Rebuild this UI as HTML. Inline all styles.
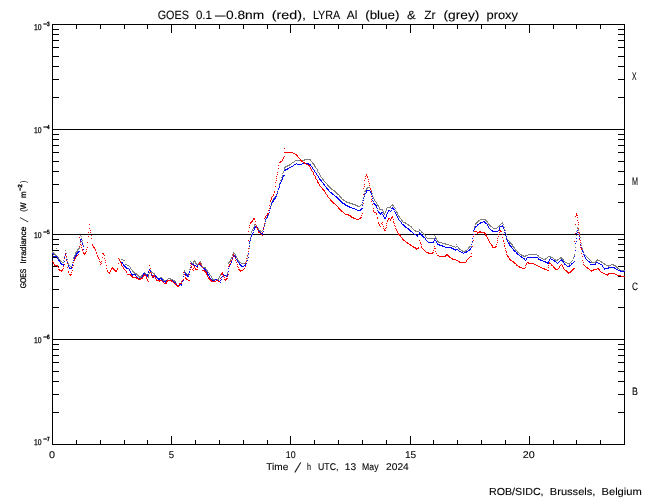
<!DOCTYPE html><html><head><meta charset="utf-8"><style>html,body{margin:0;padding:0;background:#fff;}svg{display:block;}text{font-family:"Liberation Sans",sans-serif;text-rendering:geometricPrecision;fill:#000;stroke:#000;stroke-width:0.1px;}</style></head><body>
<svg width="650" height="500" viewBox="0 0 650 500">
<rect width="650" height="500" fill="#fff"/>
<path d="M52 24.5H625M52 444.5H625M52.5 24V445M624.5 24V445M52 129.5H625M52 234.5H625M52 339.5H625M52 97.5H59M618 97.5H625M52 79.5H59M618 79.5H625M52 66.5H59M618 66.5H625M52 56.5H59M618 56.5H625M52 47.5H59M618 47.5H625M52 40.5H59M618 40.5H625M52 34.5H59M618 34.5H625M52 29.5H59M618 29.5H625M52 202.5H59M618 202.5H625M52 184.5H59M618 184.5H625M52 171.5H59M618 171.5H625M52 161.5H59M618 161.5H625M52 152.5H59M618 152.5H625M52 145.5H59M618 145.5H625M52 139.5H59M618 139.5H625M52 134.5H59M618 134.5H625M52 307.5H59M618 307.5H625M52 289.5H59M618 289.5H625M52 276.5H59M618 276.5H625M52 266.5H59M618 266.5H625M52 257.5H59M618 257.5H625M52 250.5H59M618 250.5H625M52 244.5H59M618 244.5H625M52 239.5H59M618 239.5H625M52 412.5H59M618 412.5H625M52 394.5H59M618 394.5H625M52 381.5H59M618 381.5H625M52 371.5H59M618 371.5H625M52 362.5H59M618 362.5H625M52 355.5H59M618 355.5H625M52 349.5H59M618 349.5H625M52 344.5H59M618 344.5H625M76.5 24V29M76.5 440V445M100.5 24V29M100.5 440V445M124.5 24V29M124.5 440V445M147.5 24V29M147.5 440V445M171.5 24V33M171.5 436V445M195.5 24V29M195.5 440V445M219.5 24V29M219.5 440V445M243.5 24V29M243.5 440V445M267.5 24V29M267.5 440V445M290.5 24V33M290.5 436V445M314.5 24V29M314.5 440V445M338.5 24V29M338.5 440V445M362.5 24V29M362.5 440V445M386.5 24V29M386.5 440V445M410.5 24V33M410.5 436V445M433.5 24V29M433.5 440V445M457.5 24V29M457.5 440V445M481.5 24V29M481.5 440V445M505.5 24V29M505.5 440V445M529.5 24V33M529.5 436V445M553.5 24V29M553.5 440V445M576.5 24V29M576.5 440V445M600.5 24V29M600.5 440V445" stroke="#000" stroke-width="1" fill="none" shape-rendering="crispEdges"/>
<path d="M304 159h7v1h-7zM295 160h10v1h-10zM310 160h1v1h-1zM294 161h1v1h-1zM311 161h1v1h-1zM292 162h2v1h-2zM312 162h1v1h-1zM291 163h1v1h-1zM312 163h2v1h-2zM289 164h2v1h-2zM313 164h2v1h-2zM287 165h3v1h-3zM314 165h1v1h-1zM285 166h3v1h-3zM314 166h2v1h-2zM284 167h2v1h-2zM315 167h1v1h-1zM284 168h1v1h-1zM316 168h1v1h-1zM284 169h1v1h-1zM317 169h1v1h-1zM317 170h1v1h-1zM283 171h1v1h-1zM317 171h1v1h-1zM283 172h1v1h-1zM318 172h1v1h-1zM282 173h1v1h-1zM319 173h1v1h-1zM319 174h1v1h-1zM282 175h1v1h-1zM320 175h1v1h-1zM282 176h1v1h-1zM320 176h1v1h-1zM281 177h1v1h-1zM321 177h1v1h-1zM322 178h1v1h-1zM281 179h1v1h-1zM322 179h2v1h-2zM280 180h1v1h-1zM323 180h1v1h-1zM324 181h1v1h-1zM280 182h1v1h-1zM325 182h1v1h-1zM279 183h1v1h-1zM326 183h1v1h-1zM327 184h1v1h-1zM279 185h1v1h-1zM327 185h2v1h-2zM279 186h1v1h-1zM328 186h2v1h-2zM329 187h2v1h-2zM367 187h3v1h-3zM278 188h1v1h-1zM330 188h2v1h-2zM366 188h2v1h-2zM370 188h1v1h-1zM278 189h1v1h-1zM331 189h2v1h-2zM366 189h1v1h-1zM370 189h1v1h-1zM333 190h2v1h-2zM365 190h1v1h-1zM371 190h1v1h-1zM277 191h1v1h-1zM334 191h2v1h-2zM364 191h2v1h-2zM277 192h1v1h-1zM335 192h2v1h-2zM371 192h1v1h-1zM277 193h1v1h-1zM336 193h2v1h-2zM364 193h1v1h-1zM372 193h1v1h-1zM276 194h1v1h-1zM337 194h2v1h-2zM276 195h1v1h-1zM339 195h1v1h-1zM364 195h1v1h-1zM372 195h1v1h-1zM275 196h1v1h-1zM339 196h2v1h-2zM372 196h1v1h-1zM274 197h2v1h-2zM340 197h2v1h-2zM363 197h1v1h-1zM373 197h1v1h-1zM273 198h1v1h-1zM341 198h1v1h-1zM363 198h1v1h-1zM373 198h1v1h-1zM273 199h1v1h-1zM342 199h2v1h-2zM374 199h1v1h-1zM272 200h1v1h-1zM343 200h2v1h-2zM362 200h1v1h-1zM374 200h1v1h-1zM272 201h1v1h-1zM345 201h2v1h-2zM375 201h1v1h-1zM271 202h1v1h-1zM346 202h4v1h-4zM362 202h1v1h-1zM376 202h1v1h-1zM271 203h1v1h-1zM349 203h4v1h-4zM376 203h1v1h-1zM352 204h4v1h-4zM361 204h2v1h-2zM377 204h1v1h-1zM392 204h1v1h-1zM271 205h1v1h-1zM355 205h3v1h-3zM360 205h1v1h-1zM377 205h2v1h-2zM391 205h3v1h-3zM357 206h3v1h-3zM378 206h1v1h-1zM390 206h1v1h-1zM393 206h1v1h-1zM270 207h1v1h-1zM379 207h1v1h-1zM387 207h4v1h-4zM394 207h1v1h-1zM270 208h1v1h-1zM379 208h1v1h-1zM386 208h1v1h-1zM395 208h1v1h-1zM379 209h4v1h-4zM386 209h1v1h-1zM269 210h1v1h-1zM382 210h1v1h-1zM386 210h1v1h-1zM395 210h1v1h-1zM383 211h1v1h-1zM385 211h1v1h-1zM396 211h1v1h-1zM269 212h1v1h-1zM383 212h1v1h-1zM385 212h1v1h-1zM396 212h2v1h-2zM383 213h2v1h-2zM397 213h1v1h-1zM268 214h1v1h-1zM384 214h1v1h-1zM397 214h1v1h-1zM267 215h2v1h-2zM398 215h1v1h-1zM267 216h1v1h-1zM398 216h2v1h-2zM266 217h1v1h-1zM399 217h1v1h-1zM266 218h1v1h-1zM400 218h1v1h-1zM401 219h1v1h-1zM480 219h6v1h-6zM265 220h1v1h-1zM401 220h2v1h-2zM478 220h2v1h-2zM485 220h2v1h-2zM265 221h1v1h-1zM402 221h1v1h-1zM477 221h2v1h-2zM486 221h2v1h-2zM403 222h3v1h-3zM476 222h2v1h-2zM487 222h1v1h-1zM502 222h1v1h-1zM265 223h1v1h-1zM405 223h2v1h-2zM475 223h2v1h-2zM488 223h1v1h-1zM501 223h2v1h-2zM254 224h2v1h-2zM264 224h1v1h-1zM407 224h2v1h-2zM475 224h1v1h-1zM488 224h2v1h-2zM500 224h1v1h-1zM503 224h1v1h-1zM254 225h1v1h-1zM256 225h1v1h-1zM408 225h2v1h-2zM489 225h2v1h-2zM499 225h1v1h-1zM254 226h1v1h-1zM256 226h1v1h-1zM264 226h1v1h-1zM410 226h2v1h-2zM474 226h1v1h-1zM490 226h2v1h-2zM498 226h2v1h-2zM503 226h1v1h-1zM253 227h1v1h-1zM257 227h1v1h-1zM263 227h1v1h-1zM411 227h1v1h-1zM474 227h1v1h-1zM492 227h1v1h-1zM497 227h1v1h-1zM504 227h1v1h-1zM577 227h1v1h-1zM253 228h1v1h-1zM258 228h1v1h-1zM412 228h1v1h-1zM493 228h4v1h-4zM577 228h1v1h-1zM252 229h1v1h-1zM258 229h1v1h-1zM263 229h1v1h-1zM413 229h1v1h-1zM419 229h1v1h-1zM474 229h1v1h-1zM504 229h1v1h-1zM578 229h1v1h-1zM252 230h1v1h-1zM259 230h2v1h-2zM262 230h1v1h-1zM414 230h2v1h-2zM419 230h2v1h-2zM505 230h1v1h-1zM578 230h1v1h-1zM251 231h1v1h-1zM260 231h2v1h-2zM415 231h4v1h-4zM421 231h1v1h-1zM473 231h1v1h-1zM576 231h1v1h-1zM251 232h1v1h-1zM262 232h1v1h-1zM421 232h2v1h-2zM505 232h1v1h-1zM579 232h1v1h-1zM423 233h1v1h-1zM251 234h1v1h-1zM423 234h2v1h-2zM473 234h1v1h-1zM506 234h1v1h-1zM579 234h1v1h-1zM80 235h1v1h-1zM425 235h1v1h-1zM434 235h1v1h-1zM576 235h1v1h-1zM81 236h1v1h-1zM425 236h1v1h-1zM435 236h1v1h-1zM506 236h1v1h-1zM250 237h1v1h-1zM426 237h1v1h-1zM435 237h1v1h-1zM506 237h1v1h-1zM580 237h1v1h-1zM81 238h1v1h-1zM427 238h8v1h-8zM436 238h1v1h-1zM472 238h1v1h-1zM250 239h1v1h-1zM436 239h1v1h-1zM507 239h1v1h-1zM82 240h1v1h-1zM437 240h1v1h-1zM508 240h1v1h-1zM580 240h1v1h-1zM437 241h2v1h-2zM509 241h1v1h-1zM576 241h1v1h-1zM80 242h1v1h-1zM82 242h1v1h-1zM249 242h1v1h-1zM438 242h4v1h-4zM472 242h1v1h-1zM509 242h2v1h-2zM442 243h4v1h-4zM510 243h2v1h-2zM581 243h1v1h-1zM445 244h4v1h-4zM456 244h1v1h-1zM471 244h1v1h-1zM511 244h2v1h-2zM83 245h1v1h-1zM249 245h1v1h-1zM449 245h3v1h-3zM512 245h1v1h-1zM581 245h1v1h-1zM452 246h3v1h-3zM456 246h2v1h-2zM469 246h3v1h-3zM512 246h2v1h-2zM79 247h1v1h-1zM455 247h1v1h-1zM458 247h1v1h-1zM468 247h2v1h-2zM513 247h2v1h-2zM575 247h1v1h-1zM56 248h1v1h-1zM78 248h2v1h-2zM249 248h1v1h-1zM458 248h2v1h-2zM468 248h1v1h-1zM514 248h1v1h-1zM582 248h1v1h-1zM77 249h2v1h-2zM459 249h2v1h-2zM467 249h1v1h-1zM515 249h1v1h-1zM582 249h1v1h-1zM65 250h1v1h-1zM77 250h1v1h-1zM461 250h2v1h-2zM465 250h2v1h-2zM515 250h2v1h-2zM575 250h1v1h-1zM52 251h1v1h-1zM76 251h2v1h-2zM248 251h1v1h-1zM462 251h4v1h-4zM517 251h1v1h-1zM583 251h1v1h-1zM52 252h2v1h-2zM75 252h2v1h-2zM233 252h1v1h-1zM517 252h2v1h-2zM583 252h1v1h-1zM53 253h2v1h-2zM65 253h2v1h-2zM75 253h1v1h-1zM233 253h2v1h-2zM519 253h1v1h-1zM54 254h2v1h-2zM75 254h1v1h-1zM232 254h1v1h-1zM235 254h1v1h-1zM248 254h1v1h-1zM520 254h2v1h-2zM528 254h9v1h-9zM574 254h1v1h-1zM584 254h1v1h-1zM55 255h2v1h-2zM74 255h1v1h-1zM232 255h1v1h-1zM235 255h1v1h-1zM521 255h3v1h-3zM525 255h3v1h-3zM537 255h2v1h-2zM574 255h1v1h-1zM584 255h2v1h-2zM57 256h1v1h-1zM64 256h1v1h-1zM74 256h1v1h-1zM236 256h1v1h-1zM247 256h1v1h-1zM523 256h3v1h-3zM538 256h1v1h-1zM548 256h3v1h-3zM586 256h1v1h-1zM57 257h2v1h-2zM66 257h1v1h-1zM73 257h1v1h-1zM231 257h2v1h-2zM236 257h1v1h-1zM539 257h2v1h-2zM547 257h1v1h-1zM550 257h3v1h-3zM560 257h2v1h-2zM573 257h1v1h-1zM587 257h1v1h-1zM58 258h1v1h-1zM64 258h1v1h-1zM73 258h1v1h-1zM231 258h1v1h-1zM237 258h1v1h-1zM247 258h1v1h-1zM541 258h2v1h-2zM545 258h2v1h-2zM553 258h1v1h-1zM559 258h4v1h-4zM573 258h1v1h-1zM588 258h1v1h-1zM59 259h1v1h-1zM67 259h1v1h-1zM121 259h2v1h-2zM230 259h1v1h-1zM237 259h1v1h-1zM543 259h3v1h-3zM554 259h2v1h-2zM557 259h2v1h-2zM562 259h2v1h-2zM589 259h1v1h-1zM597 259h1v1h-1zM59 260h2v1h-2zM63 260h1v1h-1zM73 260h1v1h-1zM123 260h2v1h-2zM194 260h1v1h-1zM230 260h1v1h-1zM238 260h1v1h-1zM246 260h1v1h-1zM555 260h3v1h-3zM563 260h1v1h-1zM572 260h1v1h-1zM590 260h1v1h-1zM596 260h4v1h-4zM60 261h2v1h-2zM67 261h1v1h-1zM190 261h1v1h-1zM193 261h3v1h-3zM200 261h1v1h-1zM229 261h2v1h-2zM238 261h2v1h-2zM246 261h1v1h-1zM564 261h1v1h-1zM571 261h1v1h-1zM591 261h1v1h-1zM595 261h2v1h-2zM600 261h2v1h-2zM62 262h2v1h-2zM72 262h1v1h-1zM191 262h1v1h-1zM193 262h1v1h-1zM195 262h1v1h-1zM199 262h2v1h-2zM228 262h2v1h-2zM239 262h2v1h-2zM245 262h1v1h-1zM565 262h2v1h-2zM570 262h1v1h-1zM591 262h5v1h-5zM601 262h2v1h-2zM68 263h1v1h-1zM191 263h3v1h-3zM195 263h2v1h-2zM198 263h2v1h-2zM201 263h1v1h-1zM228 263h1v1h-1zM241 263h5v1h-5zM567 263h3v1h-3zM603 263h2v1h-2zM68 264h1v1h-1zM72 264h1v1h-1zM125 264h2v1h-2zM196 264h2v1h-2zM201 264h1v1h-1zM569 264h1v1h-1zM604 264h2v1h-2zM611 264h3v1h-3zM69 265h1v1h-1zM127 265h2v1h-2zM190 265h1v1h-1zM201 265h1v1h-1zM606 265h5v1h-5zM613 265h3v1h-3zM70 266h2v1h-2zM129 266h1v1h-1zM202 266h1v1h-1zM608 266h1v1h-1zM615 266h2v1h-2zM71 267h1v1h-1zM130 267h1v1h-1zM203 267h3v1h-3zM616 267h2v1h-2zM130 268h1v1h-1zM205 268h1v1h-1zM617 268h2v1h-2zM131 269h1v1h-1zM189 269h1v1h-1zM205 269h2v1h-2zM619 269h1v1h-1zM132 270h1v1h-1zM184 270h1v1h-1zM206 270h2v1h-2zM620 270h5v1h-5zM132 271h2v1h-2zM150 271h2v1h-2zM184 271h1v1h-1zM189 271h1v1h-1zM207 271h1v1h-1zM133 272h2v1h-2zM144 272h1v1h-1zM149 272h1v1h-1zM151 272h2v1h-2zM185 272h1v1h-1zM208 272h1v1h-1zM227 272h1v1h-1zM134 273h3v1h-3zM143 273h3v1h-3zM149 273h1v1h-1zM153 273h2v1h-2zM185 273h2v1h-2zM188 273h1v1h-1zM209 273h1v1h-1zM221 273h2v1h-2zM227 273h1v1h-1zM136 274h2v1h-2zM142 274h1v1h-1zM146 274h1v1h-1zM148 274h1v1h-1zM154 274h1v1h-1zM183 274h1v1h-1zM186 274h2v1h-2zM209 274h1v1h-1zM220 274h1v1h-1zM222 274h2v1h-2zM137 275h2v1h-2zM141 275h2v1h-2zM146 275h1v1h-1zM155 275h1v1h-1zM187 275h2v1h-2zM210 275h1v1h-1zM220 275h1v1h-1zM224 275h3v1h-3zM138 276h4v1h-4zM147 276h2v1h-2zM156 276h1v1h-1zM211 276h1v1h-1zM219 276h1v1h-1zM139 277h2v1h-2zM148 277h1v1h-1zM157 277h1v1h-1zM160 277h2v1h-2zM211 277h1v1h-1zM219 277h1v1h-1zM157 278h4v1h-4zM162 278h1v1h-1zM168 278h3v1h-3zM212 278h1v1h-1zM218 278h1v1h-1zM159 279h1v1h-1zM163 279h1v1h-1zM167 279h1v1h-1zM170 279h3v1h-3zM183 279h1v1h-1zM212 279h7v1h-7zM163 280h4v1h-4zM172 280h3v1h-3zM182 280h1v1h-1zM165 281h1v1h-1zM174 281h2v1h-2zM175 282h1v1h-1zM181 282h1v1h-1zM176 283h1v1h-1zM180 283h1v1h-1zM176 284h1v1h-1zM179 284h1v1h-1zM181 284h1v1h-1zM177 285h3v1h-3z" fill="#808080" shape-rendering="crispEdges"/>
<path d="M296 163h1v1h-1zM302 163h7v1h-7zM294 164h2v1h-2zM297 164h5v1h-5zM308 164h3v1h-3zM293 165h1v1h-1zM310 165h1v1h-1zM291 166h2v1h-2zM311 166h1v1h-1zM289 167h2v1h-2zM312 167h1v1h-1zM287 168h2v1h-2zM312 168h1v1h-1zM285 169h3v1h-3zM313 169h1v1h-1zM284 170h2v1h-2zM314 170h1v1h-1zM314 171h1v1h-1zM315 172h1v1h-1zM316 173h1v1h-1zM316 174h1v1h-1zM283 175h2v1h-2zM317 175h1v1h-1zM283 176h1v1h-1zM318 176h1v1h-1zM282 177h1v1h-1zM318 177h1v1h-1zM282 178h1v1h-1zM319 178h1v1h-1zM282 179h1v1h-1zM319 179h2v1h-2zM281 180h1v1h-1zM320 180h2v1h-2zM281 181h1v1h-1zM321 181h1v1h-1zM280 182h1v1h-1zM322 182h1v1h-1zM280 183h1v1h-1zM323 183h1v1h-1zM279 184h1v1h-1zM323 184h2v1h-2zM324 185h1v1h-1zM279 186h1v1h-1zM325 186h1v1h-1zM279 187h1v1h-1zM326 187h1v1h-1zM278 188h1v1h-1zM326 188h2v1h-2zM278 189h1v1h-1zM327 189h2v1h-2zM328 190h1v1h-1zM366 190h4v1h-4zM277 191h1v1h-1zM329 191h1v1h-1zM366 191h1v1h-1zM370 191h1v1h-1zM330 192h2v1h-2zM366 192h1v1h-1zM370 192h1v1h-1zM277 193h1v1h-1zM331 193h2v1h-2zM365 193h1v1h-1zM371 193h1v1h-1zM276 194h1v1h-1zM332 194h2v1h-2zM364 194h1v1h-1zM371 194h1v1h-1zM334 195h1v1h-1zM275 196h2v1h-2zM335 196h2v1h-2zM364 196h1v1h-1zM372 196h1v1h-1zM275 197h1v1h-1zM336 197h2v1h-2zM274 198h2v1h-2zM337 198h2v1h-2zM363 198h1v1h-1zM372 198h1v1h-1zM273 199h2v1h-2zM338 199h2v1h-2zM273 200h1v1h-1zM339 200h2v1h-2zM363 200h1v1h-1zM372 200h1v1h-1zM272 201h2v1h-2zM340 201h2v1h-2zM373 201h1v1h-1zM272 202h1v1h-1zM341 202h2v1h-2zM362 202h1v1h-1zM271 203h1v1h-1zM342 203h3v1h-3zM373 203h2v1h-2zM271 204h1v1h-1zM344 204h2v1h-2zM374 204h2v1h-2zM345 205h3v1h-3zM362 205h1v1h-1zM375 205h2v1h-2zM270 206h1v1h-1zM347 206h3v1h-3zM376 206h1v1h-1zM349 207h3v1h-3zM376 207h1v1h-1zM392 207h1v1h-1zM270 208h1v1h-1zM352 208h3v1h-3zM361 208h2v1h-2zM377 208h1v1h-1zM391 208h3v1h-3zM355 209h2v1h-2zM360 209h2v1h-2zM393 209h2v1h-2zM269 210h1v1h-1zM357 210h4v1h-4zM377 210h1v1h-1zM388 210h2v1h-2zM391 210h1v1h-1zM378 211h1v1h-1zM388 211h1v1h-1zM390 211h1v1h-1zM394 211h1v1h-1zM269 212h1v1h-1zM378 212h2v1h-2zM381 212h2v1h-2zM387 212h1v1h-1zM395 212h1v1h-1zM268 213h1v1h-1zM379 213h3v1h-3zM387 213h1v1h-1zM395 213h1v1h-1zM268 214h1v1h-1zM380 214h1v1h-1zM382 214h1v1h-1zM386 214h1v1h-1zM396 214h1v1h-1zM267 215h1v1h-1zM383 215h1v1h-1zM386 215h1v1h-1zM396 215h1v1h-1zM267 216h1v1h-1zM383 216h1v1h-1zM386 216h1v1h-1zM397 216h1v1h-1zM267 217h1v1h-1zM384 217h2v1h-2zM397 217h1v1h-1zM266 218h1v1h-1zM384 218h2v1h-2zM398 218h1v1h-1zM265 219h1v1h-1zM398 219h1v1h-1zM399 220h1v1h-1zM265 221h1v1h-1zM400 221h1v1h-1zM483 221h2v1h-2zM401 222h1v1h-1zM480 222h3v1h-3zM484 222h2v1h-2zM264 223h1v1h-1zM401 223h1v1h-1zM479 223h2v1h-2zM485 223h2v1h-2zM402 224h2v1h-2zM477 224h2v1h-2zM487 224h1v1h-1zM264 225h1v1h-1zM403 225h2v1h-2zM477 225h1v1h-1zM487 225h1v1h-1zM502 225h1v1h-1zM255 226h1v1h-1zM404 226h2v1h-2zM475 226h2v1h-2zM488 226h1v1h-1zM500 226h3v1h-3zM254 227h4v1h-4zM405 227h2v1h-2zM475 227h1v1h-1zM488 227h1v1h-1zM499 227h1v1h-1zM503 227h1v1h-1zM254 228h1v1h-1zM257 228h1v1h-1zM263 228h1v1h-1zM407 228h2v1h-2zM474 228h1v1h-1zM489 228h1v1h-1zM499 228h1v1h-1zM503 228h1v1h-1zM254 229h1v1h-1zM257 229h1v1h-1zM408 229h2v1h-2zM474 229h1v1h-1zM490 229h1v1h-1zM499 229h1v1h-1zM253 230h1v1h-1zM258 230h1v1h-1zM409 230h2v1h-2zM473 230h1v1h-1zM491 230h2v1h-2zM498 230h1v1h-1zM504 230h1v1h-1zM577 230h1v1h-1zM258 231h2v1h-2zM263 231h1v1h-1zM410 231h2v1h-2zM492 231h6v1h-6zM253 232h1v1h-1zM259 232h2v1h-2zM412 232h1v1h-1zM419 232h1v1h-1zM504 232h1v1h-1zM577 232h2v1h-2zM252 233h1v1h-1zM260 233h3v1h-3zM413 233h1v1h-1zM419 233h2v1h-2zM505 233h1v1h-1zM576 233h1v1h-1zM252 234h1v1h-1zM262 234h1v1h-1zM414 234h2v1h-2zM418 234h1v1h-1zM420 234h2v1h-2zM473 234h1v1h-1zM578 234h1v1h-1zM251 235h1v1h-1zM416 235h2v1h-2zM421 235h2v1h-2zM505 235h1v1h-1zM251 236h1v1h-1zM417 236h1v1h-1zM422 236h2v1h-2zM506 236h1v1h-1zM579 236h1v1h-1zM423 237h2v1h-2zM250 238h1v1h-1zM425 238h1v1h-1zM435 238h1v1h-1zM472 238h1v1h-1zM506 238h1v1h-1zM576 238h1v1h-1zM579 238h1v1h-1zM80 239h2v1h-2zM425 239h1v1h-1zM434 239h1v1h-1zM506 239h1v1h-1zM80 240h1v1h-1zM250 240h1v1h-1zM426 240h1v1h-1zM434 240h2v1h-2zM507 240h1v1h-1zM580 240h1v1h-1zM81 241h1v1h-1zM249 241h1v1h-1zM427 241h1v1h-1zM433 241h1v1h-1zM436 241h1v1h-1zM472 241h1v1h-1zM507 241h1v1h-1zM576 241h1v1h-1zM428 242h6v1h-6zM436 242h1v1h-1zM508 242h1v1h-1zM82 243h1v1h-1zM249 243h1v1h-1zM437 243h1v1h-1zM508 243h2v1h-2zM575 243h1v1h-1zM82 244h1v1h-1zM437 244h3v1h-3zM471 244h1v1h-1zM509 244h1v1h-1zM580 244h1v1h-1zM439 245h4v1h-4zM509 245h2v1h-2zM79 246h1v1h-1zM83 246h1v1h-1zM249 246h1v1h-1zM442 246h3v1h-3zM510 246h2v1h-2zM445 247h7v1h-7zM471 247h1v1h-1zM511 247h1v1h-1zM581 247h1v1h-1zM451 248h3v1h-3zM470 248h1v1h-1zM512 248h1v1h-1zM83 249h1v1h-1zM453 249h5v1h-5zM469 249h2v1h-2zM513 249h1v1h-1zM581 249h1v1h-1zM455 250h1v1h-1zM458 250h1v1h-1zM468 250h2v1h-2zM513 250h2v1h-2zM575 250h1v1h-1zM582 250h1v1h-1zM78 251h2v1h-2zM459 251h2v1h-2zM466 251h2v1h-2zM514 251h2v1h-2zM582 251h1v1h-1zM77 252h2v1h-2zM461 252h2v1h-2zM464 252h3v1h-3zM516 252h1v1h-1zM583 252h1v1h-1zM52 253h1v1h-1zM76 253h2v1h-2zM248 253h1v1h-1zM463 253h1v1h-1zM516 253h2v1h-2zM53 254h1v1h-1zM65 254h1v1h-1zM76 254h1v1h-1zM517 254h2v1h-2zM583 254h1v1h-1zM65 255h1v1h-1zM75 255h2v1h-2zM233 255h2v1h-2zM519 255h1v1h-1zM584 255h1v1h-1zM53 256h4v1h-4zM66 256h1v1h-1zM75 256h1v1h-1zM233 256h3v1h-3zM520 256h2v1h-2zM574 256h1v1h-1zM584 256h1v1h-1zM57 257h1v1h-1zM64 257h1v1h-1zM74 257h1v1h-1zM235 257h1v1h-1zM248 257h1v1h-1zM521 257h2v1h-2zM527 257h11v1h-11zM585 257h1v1h-1zM57 258h1v1h-1zM74 258h1v1h-1zM232 258h1v1h-1zM235 258h1v1h-1zM523 258h2v1h-2zM526 258h1v1h-1zM538 258h1v1h-1zM550 258h1v1h-1zM585 258h1v1h-1zM58 259h1v1h-1zM66 259h1v1h-1zM74 259h1v1h-1zM232 259h1v1h-1zM236 259h1v1h-1zM524 259h1v1h-1zM526 259h1v1h-1zM538 259h3v1h-3zM549 259h1v1h-1zM551 259h2v1h-2zM561 259h1v1h-1zM586 259h1v1h-1zM58 260h2v1h-2zM73 260h1v1h-1zM237 260h1v1h-1zM247 260h1v1h-1zM525 260h1v1h-1zM540 260h3v1h-3zM549 260h1v1h-1zM553 260h2v1h-2zM560 260h3v1h-3zM587 260h1v1h-1zM59 261h1v1h-1zM64 261h1v1h-1zM231 261h1v1h-1zM237 261h1v1h-1zM246 261h1v1h-1zM543 261h3v1h-3zM548 261h1v1h-1zM554 261h2v1h-2zM559 261h1v1h-1zM562 261h2v1h-2zM574 261h1v1h-1zM588 261h2v1h-2zM60 262h1v1h-1zM67 262h1v1h-1zM73 262h1v1h-1zM121 262h2v1h-2zM231 262h1v1h-1zM238 262h1v1h-1zM545 262h4v1h-4zM556 262h1v1h-1zM558 262h1v1h-1zM563 262h1v1h-1zM573 262h1v1h-1zM589 262h2v1h-2zM596 262h2v1h-2zM60 263h2v1h-2zM67 263h1v1h-1zM122 263h1v1h-1zM190 263h2v1h-2zM199 263h1v1h-1zM230 263h1v1h-1zM239 263h1v1h-1zM245 263h2v1h-2zM547 263h2v1h-2zM557 263h1v1h-1zM564 263h1v1h-1zM571 263h2v1h-2zM595 263h1v1h-1zM598 263h2v1h-2zM61 264h3v1h-3zM72 264h1v1h-1zM123 264h1v1h-1zM191 264h3v1h-3zM198 264h3v1h-3zM230 264h1v1h-1zM239 264h2v1h-2zM245 264h1v1h-1zM564 264h2v1h-2zM571 264h1v1h-1zM590 264h6v1h-6zM600 264h2v1h-2zM63 265h1v1h-1zM68 265h1v1h-1zM72 265h1v1h-1zM123 265h2v1h-2zM194 265h2v1h-2zM197 265h1v1h-1zM200 265h2v1h-2zM229 265h1v1h-1zM240 265h2v1h-2zM244 265h2v1h-2zM566 265h1v1h-1zM569 265h2v1h-2zM602 265h1v1h-1zM68 266h1v1h-1zM124 266h2v1h-2zM196 266h2v1h-2zM201 266h1v1h-1zM229 266h1v1h-1zM241 266h3v1h-3zM567 266h3v1h-3zM602 266h1v1h-1zM69 267h1v1h-1zM71 267h1v1h-1zM125 267h2v1h-2zM190 267h1v1h-1zM202 267h1v1h-1zM603 267h1v1h-1zM608 267h7v1h-7zM69 268h3v1h-3zM126 268h3v1h-3zM203 268h2v1h-2zM228 268h1v1h-1zM604 268h5v1h-5zM614 268h2v1h-2zM129 269h1v1h-1zM149 269h1v1h-1zM204 269h2v1h-2zM604 269h1v1h-1zM616 269h2v1h-2zM129 270h1v1h-1zM149 270h2v1h-2zM205 270h1v1h-1zM618 270h3v1h-3zM130 271h1v1h-1zM148 271h1v1h-1zM150 271h1v1h-1zM189 271h1v1h-1zM205 271h2v1h-2zM228 271h1v1h-1zM620 271h5v1h-5zM130 272h1v1h-1zM148 272h1v1h-1zM184 272h1v1h-1zM189 272h1v1h-1zM206 272h2v1h-2zM131 273h1v1h-1zM143 273h2v1h-2zM151 273h1v1h-1zM185 273h1v1h-1zM207 273h1v1h-1zM131 274h5v1h-5zM143 274h3v1h-3zM147 274h1v1h-1zM151 274h1v1h-1zM185 274h2v1h-2zM188 274h1v1h-1zM207 274h2v1h-2zM222 274h2v1h-2zM227 274h1v1h-1zM132 275h1v1h-1zM135 275h1v1h-1zM142 275h1v1h-1zM145 275h3v1h-3zM152 275h1v1h-1zM154 275h2v1h-2zM186 275h2v1h-2zM208 275h1v1h-1zM223 275h3v1h-3zM227 275h1v1h-1zM136 276h1v1h-1zM142 276h1v1h-1zM146 276h2v1h-2zM152 276h2v1h-2zM155 276h2v1h-2zM183 276h1v1h-1zM187 276h2v1h-2zM209 276h1v1h-1zM222 276h1v1h-1zM226 276h1v1h-1zM137 277h1v1h-1zM141 277h1v1h-1zM153 277h1v1h-1zM156 277h1v1h-1zM209 277h1v1h-1zM221 277h1v1h-1zM138 278h4v1h-4zM157 278h5v1h-5zM210 278h1v1h-1zM158 279h2v1h-2zM161 279h2v1h-2zM210 279h2v1h-2zM215 279h2v1h-2zM221 279h1v1h-1zM162 280h1v1h-1zM166 280h7v1h-7zM183 280h1v1h-1zM212 280h3v1h-3zM216 280h3v1h-3zM220 280h1v1h-1zM163 281h4v1h-4zM172 281h2v1h-2zM182 281h1v1h-1zM212 281h1v1h-1zM218 281h2v1h-2zM165 282h1v1h-1zM174 282h2v1h-2zM220 282h1v1h-1zM175 283h1v1h-1zM181 283h1v1h-1zM176 284h1v1h-1zM179 284h3v1h-3zM176 285h4v1h-4zM181 285h1v1h-1zM178 286h1v1h-1z" fill="#0000ff" shape-rendering="crispEdges"/>
<path d="M284 148h1v1h-1zM284 152h9v1h-9zM293 153h2v1h-2zM295 154h2v1h-2zM296 155h2v1h-2zM284 156h1v1h-1zM297 156h1v1h-1zM283 157h1v1h-1zM298 157h1v1h-1zM283 158h1v1h-1zM299 158h1v1h-1zM282 159h1v1h-1zM300 159h1v1h-1zM282 160h1v1h-1zM300 160h2v1h-2zM280 161h2v1h-2zM301 161h2v1h-2zM279 162h2v1h-2zM303 162h2v1h-2zM304 163h2v1h-2zM306 164h2v1h-2zM278 165h1v1h-1zM308 165h2v1h-2zM309 166h1v1h-1zM310 167h1v1h-1zM278 168h1v1h-1zM310 168h1v1h-1zM311 169h1v1h-1zM311 170h1v1h-1zM312 171h1v1h-1zM277 172h1v1h-1zM313 172h1v1h-1zM313 173h1v1h-1zM277 174h1v1h-1zM313 174h1v1h-1zM366 174h1v1h-1zM314 175h1v1h-1zM366 175h1v1h-1zM276 176h1v1h-1zM315 176h1v1h-1zM365 176h1v1h-1zM367 176h1v1h-1zM315 177h1v1h-1zM367 177h1v1h-1zM276 178h1v1h-1zM315 178h1v1h-1zM365 178h1v1h-1zM316 179h1v1h-1zM368 179h1v1h-1zM276 180h1v1h-1zM317 180h1v1h-1zM364 180h1v1h-1zM317 181h1v1h-1zM368 181h1v1h-1zM275 182h1v1h-1zM317 182h2v1h-2zM318 183h1v1h-1zM369 183h1v1h-1zM319 184h1v1h-1zM364 184h1v1h-1zM319 185h1v1h-1zM369 185h1v1h-1zM275 186h1v1h-1zM320 186h1v1h-1zM364 186h1v1h-1zM321 187h1v1h-1zM322 188h1v1h-1zM363 188h1v1h-1zM370 188h1v1h-1zM322 189h2v1h-2zM370 189h1v1h-1zM323 190h2v1h-2zM274 191h1v1h-1zM324 191h1v1h-1zM371 191h1v1h-1zM274 192h1v1h-1zM325 192h1v1h-1zM325 193h1v1h-1zM273 194h1v1h-1zM326 194h1v1h-1zM363 194h1v1h-1zM273 195h1v1h-1zM327 195h1v1h-1zM272 196h1v1h-1zM327 196h1v1h-1zM371 196h1v1h-1zM271 197h1v1h-1zM328 197h1v1h-1zM271 198h1v1h-1zM329 198h1v1h-1zM271 199h1v1h-1zM330 199h1v1h-1zM371 199h1v1h-1zM270 200h1v1h-1zM330 200h2v1h-2zM270 201h1v1h-1zM331 201h2v1h-2zM371 201h1v1h-1zM332 202h2v1h-2zM333 203h2v1h-2zM363 203h1v1h-1zM335 204h1v1h-1zM372 204h1v1h-1zM269 205h1v1h-1zM336 205h1v1h-1zM337 206h1v1h-1zM338 207h1v1h-1zM269 208h1v1h-1zM338 208h2v1h-2zM373 208h1v1h-1zM339 209h2v1h-2zM268 210h1v1h-1zM340 210h2v1h-2zM373 210h1v1h-1zM341 211h2v1h-2zM373 211h1v1h-1zM343 212h1v1h-1zM374 212h2v1h-2zM267 213h2v1h-2zM344 213h1v1h-1zM362 213h1v1h-1zM376 213h1v1h-1zM576 213h1v1h-1zM267 214h1v1h-1zM345 214h4v1h-4zM376 214h1v1h-1zM576 214h1v1h-1zM266 215h1v1h-1zM348 215h3v1h-3zM361 215h1v1h-1zM576 215h2v1h-2zM265 216h1v1h-1zM350 216h2v1h-2zM392 216h1v1h-1zM575 216h1v1h-1zM265 217h1v1h-1zM351 217h3v1h-3zM360 217h2v1h-2zM377 217h1v1h-1zM391 217h2v1h-2zM577 217h1v1h-1zM253 218h2v1h-2zM264 218h1v1h-1zM353 218h3v1h-3zM359 218h2v1h-2zM377 218h1v1h-1zM388 218h2v1h-2zM391 218h1v1h-1zM253 219h2v1h-2zM356 219h3v1h-3zM388 219h1v1h-1zM390 219h1v1h-1zM393 219h1v1h-1zM252 220h1v1h-1zM387 220h1v1h-1zM390 220h1v1h-1zM577 220h1v1h-1zM251 221h2v1h-2zM255 221h1v1h-1zM387 221h1v1h-1zM393 221h1v1h-1zM250 222h2v1h-2zM378 222h1v1h-1zM382 222h1v1h-1zM393 222h1v1h-1zM578 222h1v1h-1zM250 223h1v1h-1zM264 223h1v1h-1zM378 223h1v1h-1zM381 223h1v1h-1zM386 223h1v1h-1zM394 223h1v1h-1zM89 224h1v1h-1zM255 224h1v1h-1zM379 224h1v1h-1zM382 224h1v1h-1zM575 224h1v1h-1zM578 224h1v1h-1zM249 225h1v1h-1zM379 225h1v1h-1zM386 225h1v1h-1zM394 225h1v1h-1zM256 226h1v1h-1zM380 226h1v1h-1zM383 226h1v1h-1zM395 226h1v1h-1zM249 227h1v1h-1zM256 227h1v1h-1zM263 227h1v1h-1zM386 227h1v1h-1zM89 228h1v1h-1zM257 228h1v1h-1zM383 228h1v1h-1zM385 228h1v1h-1zM395 228h1v1h-1zM578 228h1v1h-1zM257 229h1v1h-1zM263 229h1v1h-1zM384 229h1v1h-1zM396 229h1v1h-1zM90 230h1v1h-1zM384 230h2v1h-2zM396 230h1v1h-1zM499 230h2v1h-2zM248 231h1v1h-1zM258 231h1v1h-1zM397 231h1v1h-1zM474 231h3v1h-3zM479 231h2v1h-2zM500 231h2v1h-2zM88 232h1v1h-1zM90 232h1v1h-1zM258 232h2v1h-2zM262 232h1v1h-1zM397 232h1v1h-1zM477 232h8v1h-8zM499 232h1v1h-1zM578 232h1v1h-1zM260 233h1v1h-1zM398 233h1v1h-1zM477 233h1v1h-1zM484 233h2v1h-2zM575 233h1v1h-1zM579 233h1v1h-1zM261 234h1v1h-1zM398 234h2v1h-2zM474 234h1v1h-1zM485 234h1v1h-1zM498 234h1v1h-1zM502 234h1v1h-1zM91 235h1v1h-1zM262 235h1v1h-1zM399 235h2v1h-2zM485 235h2v1h-2zM579 235h1v1h-1zM88 236h1v1h-1zM400 236h1v1h-1zM473 236h1v1h-1zM486 236h1v1h-1zM498 236h1v1h-1zM79 237h1v1h-1zM401 237h1v1h-1zM487 237h1v1h-1zM502 237h1v1h-1zM91 238h1v1h-1zM402 238h1v1h-1zM487 238h1v1h-1zM497 238h1v1h-1zM402 239h2v1h-2zM488 239h1v1h-1zM579 239h1v1h-1zM248 240h1v1h-1zM403 240h2v1h-2zM419 240h1v1h-1zM473 240h1v1h-1zM488 240h1v1h-1zM497 240h1v1h-1zM503 240h1v1h-1zM580 240h1v1h-1zM80 241h1v1h-1zM405 241h1v1h-1zM489 241h1v1h-1zM503 241h1v1h-1zM574 241h1v1h-1zM87 242h1v1h-1zM406 242h2v1h-2zM420 242h1v1h-1zM489 242h1v1h-1zM497 242h1v1h-1zM580 242h1v1h-1zM407 243h2v1h-2zM420 243h1v1h-1zM490 243h1v1h-1zM504 243h1v1h-1zM80 244h1v1h-1zM92 244h1v1h-1zM409 244h2v1h-2zM421 244h1v1h-1zM491 244h1v1h-1zM496 244h1v1h-1zM81 245h1v1h-1zM92 245h1v1h-1zM410 245h2v1h-2zM491 245h2v1h-2zM504 245h1v1h-1zM580 245h1v1h-1zM79 246h1v1h-1zM93 246h1v1h-1zM412 246h2v1h-2zM421 246h1v1h-1zM434 246h1v1h-1zM472 246h1v1h-1zM492 246h1v1h-1zM495 246h2v1h-2zM504 246h1v1h-1zM81 247h1v1h-1zM87 247h1v1h-1zM93 247h2v1h-2zM413 247h3v1h-3zM418 247h1v1h-1zM421 247h1v1h-1zM492 247h4v1h-4zM580 247h1v1h-1zM94 248h1v1h-1zM248 248h1v1h-1zM415 248h4v1h-4zM422 248h1v1h-1zM434 248h2v1h-2zM505 248h1v1h-1zM581 248h1v1h-1zM82 249h1v1h-1zM86 249h1v1h-1zM95 249h1v1h-1zM416 249h1v1h-1zM423 249h1v1h-1zM581 249h1v1h-1zM82 250h1v1h-1zM95 250h1v1h-1zM424 250h1v1h-1zM433 250h1v1h-1zM505 250h1v1h-1zM86 251h1v1h-1zM248 251h1v1h-1zM425 251h1v1h-1zM435 251h1v1h-1zM506 251h1v1h-1zM83 252h1v1h-1zM85 252h1v1h-1zM96 252h1v1h-1zM426 252h3v1h-3zM432 252h2v1h-2zM506 252h1v1h-1zM65 253h1v1h-1zM83 253h3v1h-3zM96 253h1v1h-1zM102 253h2v1h-2zM428 253h5v1h-5zM436 253h1v1h-1zM471 253h1v1h-1zM581 253h1v1h-1zM78 254h1v1h-1zM84 254h1v1h-1zM103 254h1v1h-1zM233 254h1v1h-1zM446 254h2v1h-2zM506 254h1v1h-1zM65 255h1v1h-1zM77 255h1v1h-1zM97 255h1v1h-1zM104 255h1v1h-1zM233 255h1v1h-1zM247 255h1v1h-1zM437 255h2v1h-2zM445 255h4v1h-4zM507 255h1v1h-1zM66 256h1v1h-1zM76 256h1v1h-1zM97 256h1v1h-1zM234 256h1v1h-1zM439 256h7v1h-7zM448 256h2v1h-2zM470 256h2v1h-2zM507 256h2v1h-2zM582 256h1v1h-1zM75 257h1v1h-1zM98 257h1v1h-1zM102 257h1v1h-1zM232 257h1v1h-1zM449 257h2v1h-2zM469 257h1v1h-1zM508 257h1v1h-1zM64 258h1v1h-1zM75 258h1v1h-1zM98 258h1v1h-1zM104 258h1v1h-1zM118 258h1v1h-1zM235 258h1v1h-1zM246 258h1v1h-1zM451 258h2v1h-2zM468 258h1v1h-1zM509 258h1v1h-1zM74 259h1v1h-1zM99 259h1v1h-1zM119 259h1v1h-1zM232 259h1v1h-1zM452 259h4v1h-4zM467 259h1v1h-1zM509 259h2v1h-2zM66 260h1v1h-1zM74 260h1v1h-1zM105 260h1v1h-1zM119 260h1v1h-1zM231 260h1v1h-1zM235 260h1v1h-1zM456 260h2v1h-2zM466 260h1v1h-1zM510 260h2v1h-2zM582 260h1v1h-1zM52 261h1v1h-1zM99 261h1v1h-1zM101 261h1v1h-1zM120 261h1v1h-1zM230 261h1v1h-1zM246 261h1v1h-1zM458 261h2v1h-2zM466 261h1v1h-1zM512 261h2v1h-2zM53 262h1v1h-1zM73 262h1v1h-1zM100 262h1v1h-1zM105 262h1v1h-1zM120 262h1v1h-1zM199 262h1v1h-1zM236 262h1v1h-1zM459 262h7v1h-7zM513 262h2v1h-2zM527 262h2v1h-2zM549 262h1v1h-1zM583 262h1v1h-1zM53 263h1v1h-1zM67 263h1v1h-1zM101 263h1v1h-1zM118 263h1v1h-1zM121 263h1v1h-1zM190 263h1v1h-1zM199 263h2v1h-2zM230 263h1v1h-1zM245 263h1v1h-1zM514 263h2v1h-2zM526 263h1v1h-1zM528 263h6v1h-6zM549 263h2v1h-2zM54 264h1v1h-1zM64 264h1v1h-1zM100 264h1v1h-1zM121 264h1v1h-1zM191 264h1v1h-1zM198 264h1v1h-1zM200 264h1v1h-1zM229 264h1v1h-1zM237 264h1v1h-1zM516 264h1v1h-1zM526 264h1v1h-1zM534 264h2v1h-2zM551 264h1v1h-1zM561 264h1v1h-1zM583 264h1v1h-1zM54 265h4v1h-4zM73 265h1v1h-1zM106 265h1v1h-1zM121 265h1v1h-1zM149 265h1v1h-1zM193 265h1v1h-1zM201 265h1v1h-1zM229 265h1v1h-1zM516 265h2v1h-2zM525 265h1v1h-1zM536 265h2v1h-2zM548 265h1v1h-1zM551 265h2v1h-2zM560 265h1v1h-1zM562 265h1v1h-1zM584 265h1v1h-1zM57 266h1v1h-1zM63 266h1v1h-1zM122 266h1v1h-1zM191 266h1v1h-1zM194 266h1v1h-1zM228 266h1v1h-1zM237 266h1v1h-1zM245 266h1v1h-1zM518 266h2v1h-2zM538 266h2v1h-2zM553 266h1v1h-1zM559 266h1v1h-1zM562 266h1v1h-1zM585 266h1v1h-1zM58 267h1v1h-1zM67 267h1v1h-1zM72 267h1v1h-1zM112 267h1v1h-1zM123 267h1v1h-1zM191 267h1v1h-1zM194 267h1v1h-1zM197 267h1v1h-1zM202 267h1v1h-1zM238 267h1v1h-1zM519 267h3v1h-3zM525 267h1v1h-1zM540 267h2v1h-2zM548 267h1v1h-1zM553 267h2v1h-2zM559 267h1v1h-1zM563 267h1v1h-1zM586 267h2v1h-2zM63 268h1v1h-1zM106 268h1v1h-1zM111 268h3v1h-3zM117 268h1v1h-1zM123 268h1v1h-1zM150 268h1v1h-1zM193 268h1v1h-1zM195 268h1v1h-1zM244 268h1v1h-1zM522 268h3v1h-3zM542 268h3v1h-3zM554 268h2v1h-2zM558 268h1v1h-1zM563 268h1v1h-1zM573 268h2v1h-2zM587 268h2v1h-2zM597 268h2v1h-2zM58 269h2v1h-2zM62 269h1v1h-1zM111 269h1v1h-1zM113 269h2v1h-2zM117 269h1v1h-1zM124 269h1v1h-1zM190 269h1v1h-1zM192 269h1v1h-1zM195 269h3v1h-3zM238 269h2v1h-2zM243 269h1v1h-1zM544 269h3v1h-3zM555 269h3v1h-3zM564 269h1v1h-1zM572 269h2v1h-2zM589 269h1v1h-1zM593 269h4v1h-4zM598 269h2v1h-2zM59 270h4v1h-4zM72 270h1v1h-1zM107 270h1v1h-1zM110 270h1v1h-1zM114 270h3v1h-3zM125 270h1v1h-1zM149 270h1v1h-1zM193 270h1v1h-1zM202 270h3v1h-3zM239 270h4v1h-4zM547 270h2v1h-2zM565 270h2v1h-2zM571 270h2v1h-2zM590 270h4v1h-4zM599 270h1v1h-1zM61 271h1v1h-1zM68 271h1v1h-1zM107 271h1v1h-1zM110 271h1v1h-1zM115 271h2v1h-2zM126 271h1v1h-1zM204 271h2v1h-2zM240 271h1v1h-1zM566 271h2v1h-2zM570 271h2v1h-2zM591 271h1v1h-1zM600 271h1v1h-1zM68 272h1v1h-1zM71 272h1v1h-1zM108 272h2v1h-2zM126 272h1v1h-1zM150 272h1v1h-1zM183 272h1v1h-1zM205 272h2v1h-2zM222 272h1v1h-1zM567 272h4v1h-4zM601 272h2v1h-2zM109 273h1v1h-1zM151 273h1v1h-1zM206 273h1v1h-1zM221 273h2v1h-2zM568 273h1v1h-1zM603 273h2v1h-2zM608 273h7v1h-7zM69 274h3v1h-3zM127 274h4v1h-4zM144 274h1v1h-1zM184 274h1v1h-1zM189 274h1v1h-1zM206 274h1v1h-1zM221 274h2v1h-2zM228 274h1v1h-1zM605 274h4v1h-4zM615 274h2v1h-2zM70 275h1v1h-1zM130 275h2v1h-2zM143 275h3v1h-3zM148 275h1v1h-1zM151 275h1v1h-1zM153 275h2v1h-2zM185 275h1v1h-1zM207 275h1v1h-1zM223 275h1v1h-1zM607 275h1v1h-1zM617 275h4v1h-4zM131 276h2v1h-2zM143 276h1v1h-1zM146 276h1v1h-1zM152 276h3v1h-3zM207 276h1v1h-1zM223 276h1v1h-1zM227 276h1v1h-1zM621 276h4v1h-4zM132 277h5v1h-5zM142 277h1v1h-1zM146 277h1v1h-1zM152 277h1v1h-1zM155 277h1v1h-1zM185 277h1v1h-1zM208 277h1v1h-1zM224 277h1v1h-1zM136 278h3v1h-3zM140 278h3v1h-3zM146 278h1v1h-1zM155 278h1v1h-1zM185 278h2v1h-2zM208 278h2v1h-2zM220 278h1v1h-1zM226 278h2v1h-2zM138 279h3v1h-3zM147 279h1v1h-1zM156 279h1v1h-1zM183 279h1v1h-1zM186 279h2v1h-2zM209 279h2v1h-2zM224 279h3v1h-3zM147 280h1v1h-1zM156 280h6v1h-6zM167 280h5v1h-5zM182 280h1v1h-1zM188 280h2v1h-2zM210 280h2v1h-2zM216 280h2v1h-2zM225 280h1v1h-1zM148 281h1v1h-1zM159 281h1v1h-1zM162 281h1v1h-1zM166 281h2v1h-2zM171 281h2v1h-2zM181 281h1v1h-1zM211 281h5v1h-5zM218 281h2v1h-2zM163 282h1v1h-1zM166 282h1v1h-1zM173 282h1v1h-1zM164 283h3v1h-3zM174 283h2v1h-2zM179 283h3v1h-3zM175 284h1v1h-1zM179 284h1v1h-1zM176 285h3v1h-3zM177 286h2v1h-2z" fill="#ff0000" shape-rendering="crispEdges"/>
<text transform="translate(157.70 19)" font-size="12" textLength="31.20" lengthAdjust="spacingAndGlyphs">GOES</text>
<text transform="translate(195.90 19)" font-size="12" textLength="15.96" lengthAdjust="spacingAndGlyphs">0.1</text>
<text transform="translate(214.90 19)" font-size="12" textLength="10.46" lengthAdjust="spacingAndGlyphs">–</text>
<text transform="translate(226.00 19)" font-size="12" textLength="38.20" lengthAdjust="spacingAndGlyphs">0.8nm</text>
<text transform="translate(271.80 19)" font-size="12" textLength="34.31" lengthAdjust="spacingAndGlyphs">(red),</text>
<text transform="translate(312.90 19)" font-size="12" textLength="27.34" lengthAdjust="spacingAndGlyphs">LYRA</text>
<text transform="translate(346.80 19)" font-size="12" textLength="10.58" lengthAdjust="spacingAndGlyphs">Al</text>
<text transform="translate(365.20 19)" font-size="12" textLength="34.27" lengthAdjust="spacingAndGlyphs">(blue)</text>
<text transform="translate(407.00 19)" font-size="12" textLength="8.66" lengthAdjust="spacingAndGlyphs">&amp;</text>
<text transform="translate(424.20 19)" font-size="12" textLength="11.35" lengthAdjust="spacingAndGlyphs">Zr</text>
<text transform="translate(443.40 19)" font-size="12" textLength="36.00" lengthAdjust="spacingAndGlyphs">(grey)</text>
<text transform="translate(486.50 19)" font-size="12" textLength="31.45" lengthAdjust="spacingAndGlyphs">proxy</text>
<text transform="translate(266.30 470)" font-size="9.8" textLength="21.96" lengthAdjust="spacingAndGlyphs">Time</text>
<text transform="translate(294.50 472.3) skewX(-18)" font-size="13">/</text>
<text transform="translate(306.90 470)" font-size="9.8" textLength="4.00" lengthAdjust="spacingAndGlyphs">h</text>
<text transform="translate(318.00 470)" font-size="9.8" textLength="20.39" lengthAdjust="spacingAndGlyphs">UTC,</text>
<text transform="translate(344.80 470)" font-size="9.8" textLength="11.27" lengthAdjust="spacingAndGlyphs">13</text>
<text transform="translate(362.10 470)" font-size="9.8" textLength="16.37" lengthAdjust="spacingAndGlyphs">May</text>
<text transform="translate(386.10 470)" font-size="9.8" textLength="22.70" lengthAdjust="spacingAndGlyphs">2024</text>
<text transform="translate(488.90 495)" font-size="10.2" textLength="54.69" lengthAdjust="spacingAndGlyphs">ROB/SIDC,</text>
<text transform="translate(549.80 495)" font-size="10.2" textLength="45.64" lengthAdjust="spacingAndGlyphs">Brussels,</text>
<text transform="translate(601.50 495)" font-size="10.2" textLength="40.30" lengthAdjust="spacingAndGlyphs">Belgium</text>
<text transform="translate(49.00 458)" font-size="9.8" textLength="6.00" lengthAdjust="spacingAndGlyphs">0</text>
<text transform="translate(168.80 458)" font-size="9.8" textLength="5.36" lengthAdjust="spacingAndGlyphs">5</text>
<text transform="translate(285.75 458)" font-size="9.8" textLength="9.83" lengthAdjust="spacingAndGlyphs">10</text>
<text transform="translate(404.90 458)" font-size="9.8" textLength="11.27" lengthAdjust="spacingAndGlyphs">15</text>
<text transform="translate(522.80 458)" font-size="9.8" textLength="11.95" lengthAdjust="spacingAndGlyphs">20</text>
<text transform="translate(34.00 30)" font-size="8.4" style="stroke-width:0.25px" textLength="7.57" lengthAdjust="spacingAndGlyphs">10</text>
<text transform="translate(43.20 26)" font-size="6.0" style="stroke-width:0.45px" textLength="4.00" lengthAdjust="spacingAndGlyphs">−</text>
<text transform="translate(46.90 26)" font-size="6.0" style="stroke-width:0.45px" textLength="2.63" lengthAdjust="spacingAndGlyphs">3</text>
<text transform="translate(34.00 133)" font-size="8.4" style="stroke-width:0.25px" textLength="7.57" lengthAdjust="spacingAndGlyphs">10</text>
<text transform="translate(43.20 129)" font-size="6.0" style="stroke-width:0.45px" textLength="4.00" lengthAdjust="spacingAndGlyphs">−</text>
<text transform="translate(46.90 129)" font-size="6.0" style="stroke-width:0.45px" textLength="2.63" lengthAdjust="spacingAndGlyphs">4</text>
<text transform="translate(34.00 238)" font-size="8.4" style="stroke-width:0.25px" textLength="7.57" lengthAdjust="spacingAndGlyphs">10</text>
<text transform="translate(43.20 233.8)" font-size="6.0" style="stroke-width:0.45px" textLength="4.00" lengthAdjust="spacingAndGlyphs">−</text>
<text transform="translate(46.90 233.8)" font-size="6.0" style="stroke-width:0.45px" textLength="2.63" lengthAdjust="spacingAndGlyphs">5</text>
<text transform="translate(34.00 343)" font-size="8.4" style="stroke-width:0.25px" textLength="7.57" lengthAdjust="spacingAndGlyphs">10</text>
<text transform="translate(43.20 338.8)" font-size="6.0" style="stroke-width:0.45px" textLength="4.00" lengthAdjust="spacingAndGlyphs">−</text>
<text transform="translate(46.90 338.8)" font-size="6.0" style="stroke-width:0.45px" textLength="2.63" lengthAdjust="spacingAndGlyphs">6</text>
<text transform="translate(34.00 445)" font-size="8.4" style="stroke-width:0.25px" textLength="7.57" lengthAdjust="spacingAndGlyphs">10</text>
<text transform="translate(43.20 441)" font-size="6.0" style="stroke-width:0.45px" textLength="4.00" lengthAdjust="spacingAndGlyphs">−</text>
<text transform="translate(46.90 441)" font-size="6.0" style="stroke-width:0.45px" textLength="2.63" lengthAdjust="spacingAndGlyphs">7</text>
<text transform="translate(632.10 80)" font-size="10.8" textLength="4.51" lengthAdjust="spacingAndGlyphs">X</text>
<text transform="translate(632.00 185)" font-size="10.8" textLength="6.00" lengthAdjust="spacingAndGlyphs">M</text>
<text transform="translate(632.00 290)" font-size="10.8" textLength="6.00" lengthAdjust="spacingAndGlyphs">C</text>
<text transform="translate(632.00 395)" font-size="10.8" textLength="5.91" lengthAdjust="spacingAndGlyphs">B</text>
<text transform="translate(26 288.30) rotate(-90)" font-size="8.2" style="stroke-width:0.25px" textLength="19.67" lengthAdjust="spacingAndGlyphs">GOES</text>
<text transform="translate(26 263.70) rotate(-90)" font-size="8.2" style="stroke-width:0.25px" textLength="36.98" lengthAdjust="spacingAndGlyphs">Irradiance</text>
<text transform="translate(27.5 222.20) rotate(-90) skewX(-14)" font-size="11">/</text>
<text transform="translate(26 211.70) rotate(-90)" font-size="8.2" style="stroke-width:0.25px" textLength="9.03" lengthAdjust="spacingAndGlyphs">(W</text>
<text transform="translate(26 198.00) rotate(-90)" font-size="8.2" style="stroke-width:0.25px" textLength="6.60" lengthAdjust="spacingAndGlyphs">m</text>
<text transform="translate(26 182.80) rotate(-90)" font-size="8.2" style="stroke-width:0.25px" textLength="1.90" lengthAdjust="spacingAndGlyphs">)</text>
<text transform="translate(22 190.80) rotate(-90)" font-size="5.8" style="stroke-width:0.45px" textLength="6.60" lengthAdjust="spacingAndGlyphs">−2</text>
</svg></body></html>
